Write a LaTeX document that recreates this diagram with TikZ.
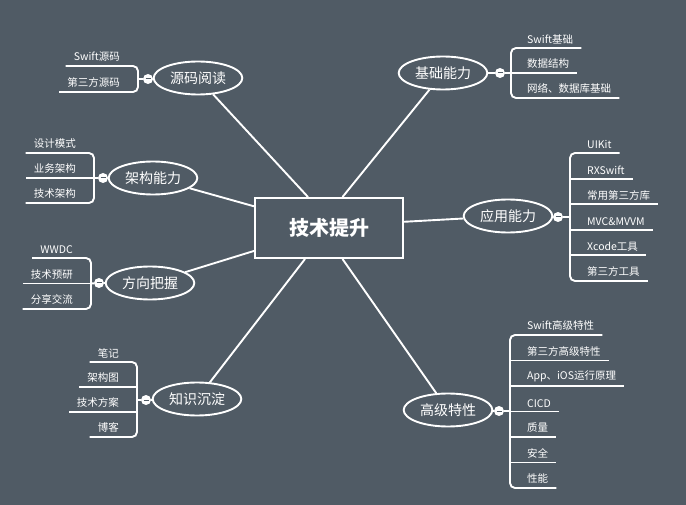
\documentclass[tikz,border=0pt]{standalone}
\usepackage{fontspec}
\setmainfont{Noto Sans CJK SC}
\usetikzlibrary{shapes.geometric,calc}
\definecolor{bgc}{RGB}{80,91,101}

\tikzset{
  line/.style={white,line width=1.9pt},
  topic/.style={ellipse,draw=white,line width=1.9pt,fill=bgc,text=white,minimum width=88pt,minimum height=33pt,font=\fontsize{14}{16}\selectfont},
  minus/.style={circle,fill=white,inner sep=0,minimum size=10pt,
    path picture={\draw[bgc,line width=1pt] ($(path picture bounding box.center)+(-2.5pt,0)$) -- ($(path picture bounding box.center)+(2.5pt,0)$);}},
  leafr/.style={anchor=south west,text=white,inner xsep=8pt,inner ysep=4pt,font=\fontsize{10.5}{12}\selectfont},
  leafl/.style={anchor=south east,text=white,inner xsep=8pt,inner ysep=4pt,font=\fontsize{10.5}{12}\selectfont},
}

\begin{document}
\begin{tikzpicture}[x=1pt,y=-1pt]
    \fill[bgc] (0,0) rectangle (686,505);
    \useasboundingbox (0,0) rectangle (686,505);

    % center
    \node[draw=white,line width=2pt,minimum width=148pt,minimum height=60pt,text=white,font=\fontsize{20}{22}\selectfont\bfseries] (c) at (329,228) {技术提升};

    % topics
    \node[topic] (ym) at (198,78) {源码阅读};
    \node[topic] (jg) at (153,178) {架构能力};
    \node[topic] (fx) at (150,283) {方向把握};
    \node[topic] (zs) at (197,399) {知识沉淀};
    \node[topic] (jc) at (443,73) {基础能力};
    \node[topic] (yy) at (508,216) {应用能力};
    \node[topic] (gj) at (448,410) {高级特性};

    \draw[line] (ym) -- ($(c.north west)!.36!(c.north east)$);
    \draw[line] (jc) -- ($(c.north west)!.59!(c.north east)$);
    \draw[line] (jg) -- ($(c.north west)!.15!(c.south west)$);
    \draw[line] (fx) -- ($(c.north west)!.87!(c.south west)$);
    \draw[line] (zs) -- ($(c.south west)!.34!(c.south east)$);
    \draw[line] (gj) -- ($(c.south west)!.59!(c.south east)$);
    \draw[line] (yy) -- ($(c.north east)!.4!(c.south east)$);

    % 基础能力
    \node[minus] (jcm) at (500,73) {};
    \draw[line] (jc) -- (jcm);
    \foreach \t [count=\i, evaluate=\i as \y using 48+25*(\i-1)] in {Swift基础,数据结构,网络、数据库基础}
        \node[leafr] (jc\i) at (519,\y) {\t};
    \draw[line,rounded corners=5pt] (jc1.south east) -- (511,48) -- (511,98) -- (jc3.south east);
    \draw[line] (511,73) -- (jc2.south east);
    \draw[line] (jcm) -- (511,73);

    % 应用能力
    \node[minus] (yym) at (558,217) {};
    \draw[line] (yy) -- (yym);
    \foreach \t [count=\i, evaluate=\i as \y using 153+25.6*(\i-1)] in {UIKit,RXSwift,常用第三方库,MVC\&MVVM,Xcode工具,第三方工具}
        \node[leafr] (yy\i) at (579,\y) {\t};
    \draw[line,rounded corners=5pt] (yy1.south east) -- (570,153) -- (570,281) -- (yy6.south east);
    \foreach \i in {2,...,5} \draw[line] (570,{153+25.6*(\i-1)}) -- (yy\i.south east);
    \draw[line] (yym) -- (570,217);

    % 高级特性
    \node[minus] (gjm) at (499,411) {};
    \draw[line] (gj) -- (gjm);
    \foreach \t [count=\i, evaluate=\i as \y using 335+25.5*(\i-1)] in {Swift高级特性,第三方高级特性,App、iOS运行原理,CICD,质量,安全,性能}
        \node[leafr] (gj\i) at (519,\y) {\t};
    \draw[line,rounded corners=5pt] (gj1.south east) -- (510,335) -- (510,488) -- (gj7.south east);
    \foreach \i in {2,...,6} \draw[line] (510,{335+25.5*(\i-1)}) -- (gj\i.south east);
    \draw[line] (gjm) -- (510,411);

    % 源码阅读
    \node[minus] (ymm) at (148,79) {};
    \draw[line] (ym) -- (ymm);
    \node[leafl] (ym1) at (128,66) {Swift源码};
    \node[leafl] (ym2) at (128,92) {第三方源码};
    \draw[line,rounded corners=5pt] (ym1.south west) -- (138,66) -- (138,92) -- (ym2.south west);
    \draw[line] (ymm) -- (138,79);

    % 架构能力
    \node[minus] (jgm) at (103,178) {};
    \draw[line] (jg) -- (jgm);
    \foreach \t [count=\i, evaluate=\i as \y using 153+25*(\i-1)] in {设计模式,业务架构,技术架构}
        \node[leafl] (jg\i) at (84,\y) {\t};
    \draw[line,rounded corners=5pt] (jg1.south west) -- (94,153) -- (94,203) -- (jg3.south west);
    \draw[line] (94,178) -- (jg2.south west);
    \draw[line] (jgm) -- (94,178);

    % 方向把握
    \node[minus] (fxm) at (99,283) {};
    \draw[line] (fx) -- (fxm);
    \foreach \t [count=\i, evaluate=\i as \y using 258+25.5*(\i-1)] in {WWDC,技术预研,分享交流}
        \node[leafl] (fx\i) at (81,\y) {\t};
    \draw[line,rounded corners=5pt] (fx1.south west) -- (91,258) -- (91,309) -- (fx3.south west);
    \draw[line] (91,283.5) -- (fx2.south west);
    \draw[line] (fxm) -- (91,283.5);

    % 知识沉淀
    \node[minus] (zsm) at (146,400) {};
    \draw[line] (zs) -- (zsm);
    \foreach \t [count=\i, evaluate=\i as \y using 362+25*(\i-1)] in {笔记,架构图,技术方案,博客}
        \node[leafl] (zs\i) at (127,\y) {\t};
    \draw[line,rounded corners=5pt] (zs1.south west) -- (137,362) -- (137,437) -- (zs4.south west);
    \foreach \i in {2,3} \draw[line] (137,{362+25*(\i-1)}) -- (zs\i.south west);
    \draw[line] (zsm) -- (137,400);
\end{tikzpicture}
\end{document}
